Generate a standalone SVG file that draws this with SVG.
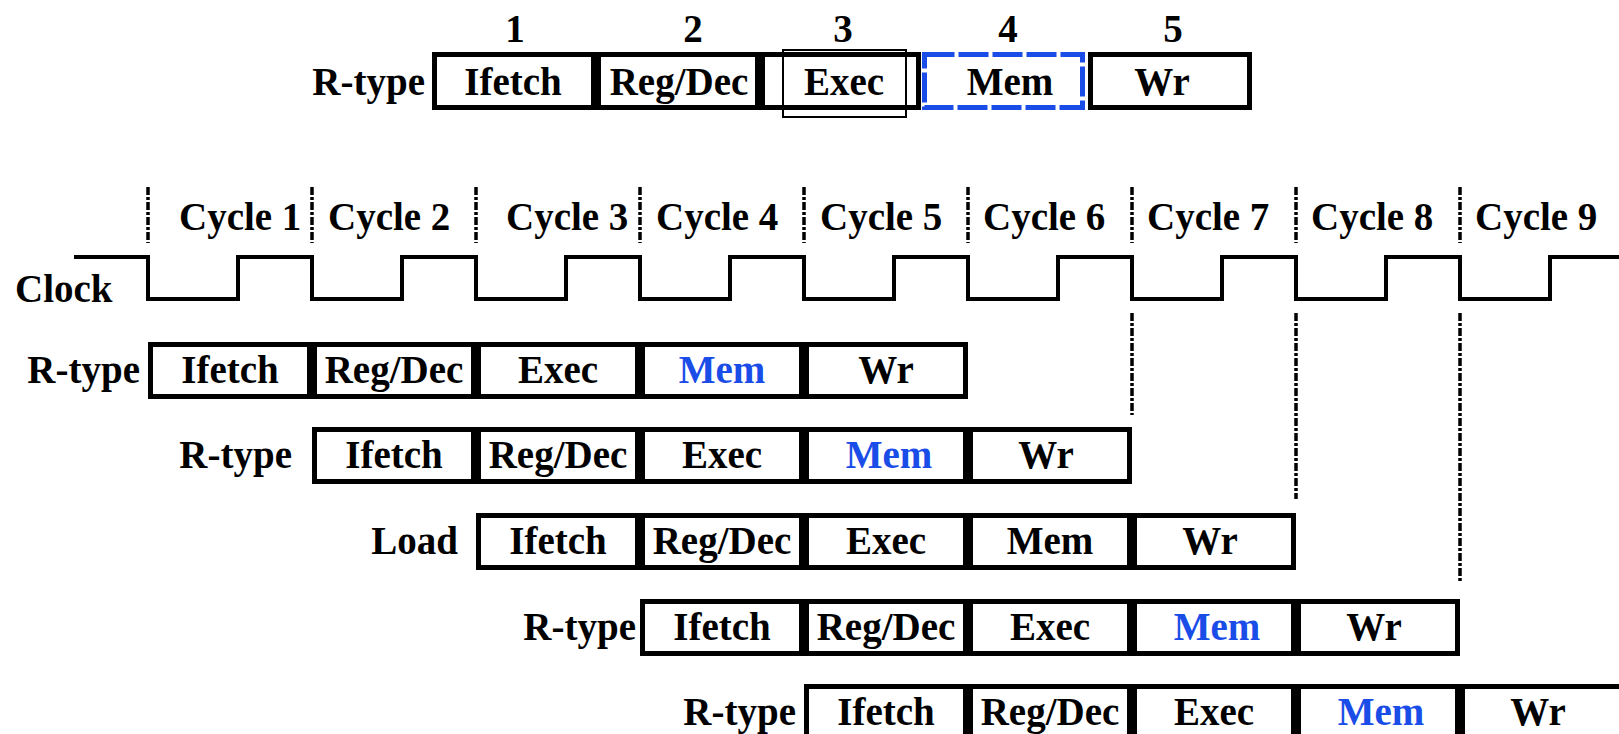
<svg xmlns="http://www.w3.org/2000/svg" width="1619" height="734" viewBox="0 0 1619 734">
<style>
text{font-family:"Liberation Serif","Times New Roman",serif;font-weight:bold;font-size:39px;fill:#000}
.c{text-anchor:middle}
.e{text-anchor:end}
.blue{fill:#1a4de8}
.cell{fill:#fff;stroke:#000;stroke-width:5}
.memd{fill:#fff;stroke:#1a4de8;stroke-width:5;stroke-dasharray:30 4}
.ov{fill:none;stroke:#000;stroke-width:2}
.clk{fill:none;stroke:#000;stroke-width:4}
.dash{fill:none;stroke:#000;stroke-width:3.5;stroke-dasharray:8 2 3 2}
</style>
<rect width="1619" height="734" fill="#fff"/>

<g id="legend">
<text class="c" x="515" y="42">1</text>
<text class="c" x="693" y="42">2</text>
<text class="c" x="843" y="42">3</text>
<text class="c" x="1008" y="42">4</text>
<text class="c" x="1173" y="42">5</text>
<text class="e" x="425" y="95">R-type</text>
<rect class="cell" x="434.5" y="54.5" width="159" height="53"/>
<rect class="cell" x="598.5" y="54.5" width="159" height="53"/>
<rect class="cell" x="762.5" y="54.5" width="156" height="53"/>
<rect class="memd" x="924.5" y="54.5" width="158" height="53"/>
<rect class="cell" x="1090.5" y="54.5" width="159" height="53"/>
<rect class="ov" x="783" y="50" width="123" height="67"/>
<text class="c" x="513" y="95">Ifetch</text>
<text class="c" x="679" y="95">Reg/Dec</text>
<text class="c" x="844" y="95">Exec</text>
<text class="c" x="1010" y="95">Mem</text>
<text class="c" x="1162" y="95">Wr</text>
</g>

<g id="cycles">
<text x="179" y="230">Cycle 1</text>
<text x="328" y="230">Cycle 2</text>
<text x="506" y="230">Cycle 3</text>
<text x="656" y="230">Cycle 4</text>
<text x="820" y="230">Cycle 5</text>
<text x="983" y="230">Cycle 6</text>
<text x="1147" y="230">Cycle 7</text>
<text x="1311" y="230">Cycle 8</text>
<text x="1475" y="230">Cycle 9</text>
</g>

<g id="clock">
<text x="15" y="302">Clock</text>
<path class="clk" d="M74,257 H148 V299 H238 V257 H312 V299 H402 V257 H476 V299 H566 V257 H640 V299 H730 V257 H804 V299 H894 V257 H968 V299 H1058 V257 H1132 V299 H1222 V257 H1296 V299 H1386 V257 H1460 V299 H1550 V257 H1619"/>
</g>

<g id="connectors">
<path class="dash" d="M148,187 V243 M312,187 V243 M476,187 V243 M640,187 V243 M804,187 V243 M968,187 V243 M1132,187 V243 M1296,187 V243 M1460,187 V243"/>
<path class="dash" d="M1132,313 V415 M1296,313 V499 M1460,313 V583"/>
</g>

<g id="row1">
<text class="e" x="140" y="383">R-type</text>
<rect class="cell" x="150.5" y="344.5" width="159" height="52"/>
<rect class="cell" x="314.5" y="344.5" width="159" height="52"/>
<rect class="cell" x="478.5" y="344.5" width="159" height="52"/>
<rect class="cell" x="642.5" y="344.5" width="159" height="52"/>
<rect class="cell" x="806.5" y="344.5" width="159" height="52"/>
<text class="c" x="230" y="383">Ifetch</text>
<text class="c" x="394" y="383">Reg/Dec</text>
<text class="c" x="558" y="383">Exec</text>
<text class="c blue" x="722" y="383">Mem</text>
<text class="c" x="886" y="383">Wr</text>
</g>

<g id="row2">
<text class="e" x="292" y="468">R-type</text>
<rect class="cell" x="314.5" y="429.5" width="159" height="52"/>
<rect class="cell" x="478.5" y="429.5" width="159" height="52"/>
<rect class="cell" x="642.5" y="429.5" width="159" height="52"/>
<rect class="cell" x="806.5" y="429.5" width="159" height="52"/>
<rect class="cell" x="970.5" y="429.5" width="159" height="52"/>
<text class="c" x="394" y="468">Ifetch</text>
<text class="c" x="558" y="468">Reg/Dec</text>
<text class="c" x="722" y="468">Exec</text>
<text class="c blue" x="889" y="468">Mem</text>
<text class="c" x="1046" y="468">Wr</text>
</g>

<g id="row3">
<text class="e" x="458" y="554">Load</text>
<rect class="cell" x="478.5" y="515.5" width="159" height="52"/>
<rect class="cell" x="642.5" y="515.5" width="159" height="52"/>
<rect class="cell" x="806.5" y="515.5" width="159" height="52"/>
<rect class="cell" x="970.5" y="515.5" width="159" height="52"/>
<rect class="cell" x="1134.5" y="515.5" width="159" height="52"/>
<text class="c" x="558" y="554">Ifetch</text>
<text class="c" x="722" y="554">Reg/Dec</text>
<text class="c" x="886" y="554">Exec</text>
<text class="c" x="1050" y="554">Mem</text>
<text class="c" x="1210" y="554">Wr</text>
</g>

<g id="row4">
<text class="e" x="636" y="640">R-type</text>
<rect class="cell" x="642.5" y="601.5" width="159" height="52"/>
<rect class="cell" x="806.5" y="601.5" width="159" height="52"/>
<rect class="cell" x="970.5" y="601.5" width="159" height="52"/>
<rect class="cell" x="1134.5" y="601.5" width="159" height="52"/>
<rect class="cell" x="1298.5" y="601.5" width="159" height="52"/>
<text class="c" x="722" y="640">Ifetch</text>
<text class="c" x="886" y="640">Reg/Dec</text>
<text class="c" x="1050" y="640">Exec</text>
<text class="c blue" x="1217" y="640">Mem</text>
<text class="c" x="1374" y="640">Wr</text>
</g>

<g id="row5">
<text class="e" x="796" y="725">R-type</text>
<rect class="cell" x="806.5" y="686.5" width="159" height="52"/>
<rect class="cell" x="970.5" y="686.5" width="159" height="52"/>
<rect class="cell" x="1134.5" y="686.5" width="159" height="52"/>
<rect class="cell" x="1298.5" y="686.5" width="159" height="52"/>
<rect class="cell" x="1462.5" y="686.5" width="159" height="52"/>
<text class="c" x="886" y="725">Ifetch</text>
<text class="c" x="1050" y="725">Reg/Dec</text>
<text class="c" x="1214" y="725">Exec</text>
<text class="c blue" x="1381" y="725">Mem</text>
<text class="c" x="1538" y="725">Wr</text>
</g>
</svg>
